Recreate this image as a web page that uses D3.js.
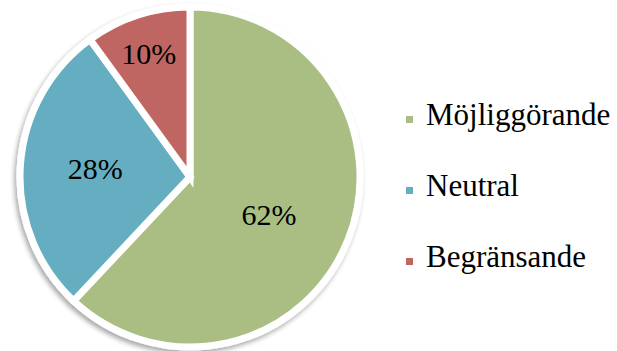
<!DOCTYPE html>
<html>
<head>
<meta charset="utf-8">
<script src="https://cdn.jsdelivr.net/npm/d3@7"></script>
<style>
  html, body { margin: 0; padding: 0; background: #ffffff; }
  svg { display: block; }
</style>
</head>
<body>
<svg id="chart" width="617" height="351"></svg>
<script>
// ---- data ----
const categories = ["Möjliggörande", "Neutral", "Begränsande"];
const values = [62, 28, 10];
const labels = ["62%", "28%", "10%"];
const colors = ["#aabe84", "#65aec2", "#bf6663"];

// ---- layout ----
const W = 617, H = 351;
const cx = 190, cy = 177;
const outerR = 170;
const labelRadiusFrac = [0.53, 0.57, 0.78];
const labelNudge = [[-3, 5], [0, -3], [-1, 0]];
const FONT = "'Times New Roman', 'Liberation Serif', 'DejaVu Serif', serif";

const svg = d3.select("#chart").attr("font-family", FONT);

const defs = svg.append("defs");
const f = defs.append("filter").attr("id", "shadow")
  .attr("x", "-20%").attr("y", "-20%").attr("width", "140%").attr("height", "140%");
f.append("feDropShadow")
  .attr("dx", -2).attr("dy", 3).attr("stdDeviation", 2.5)
  .attr("flood-color", "#000").attr("flood-opacity", 0.35);

const pie = d3.pie().sort(null).value(d => d)
  .startAngle(0).endAngle(2 * Math.PI);
const arcs = pie(values);
const arc = d3.arc().innerRadius(0).outerRadius(outerR);

const g = svg.append("g").attr("transform", `translate(${cx},${cy})`);
const slices = g.append("g").attr("filter", "url(#shadow)");
slices.selectAll("path").data(arcs).join("path")
  .attr("d", arc)
  .attr("fill", (d, i) => colors[i])
  .attr("stroke", "#ffffff")
  .attr("stroke-width", 7)
  .attr("stroke-linejoin", "miter");

g.selectAll("text.lbl").data(arcs).join("text")
  .attr("class", "lbl")
  .attr("transform", (d, i) => {
    const r = (outerR - 3.5) * labelRadiusFrac[i];
    const a = (d.startAngle + d.endAngle) / 2;
    return `translate(${r * Math.sin(a) + labelNudge[i][0]},${-r * Math.cos(a) + labelNudge[i][1]})`;
  })
  .attr("text-anchor", "middle")
  .attr("dy", "0.35em")
  .attr("font-family", FONT)
  .attr("font-size", 30)
  .attr("fill", "#000")
  .text((d, i) => labels[i]);

// ---- legend ----
const legendY = d3.scalePoint().domain(categories).range([125, 267]);
const legend = svg.append("g");
const items = legend.selectAll("g").data(categories).join("g")
  .attr("transform", d => `translate(0,${legendY(d)})`);
items.append("rect")
  .attr("x", 406).attr("y", -9).attr("width", 7).attr("height", 7)
  .attr("fill", (d, i) => colors[i]);
items.append("text")
  .attr("x", 426).attr("y", 0)
  .attr("font-family", FONT)
  .attr("font-size", 31)
  .attr("fill", "#000")
  .text(d => d);
</script>
</body>
</html>
